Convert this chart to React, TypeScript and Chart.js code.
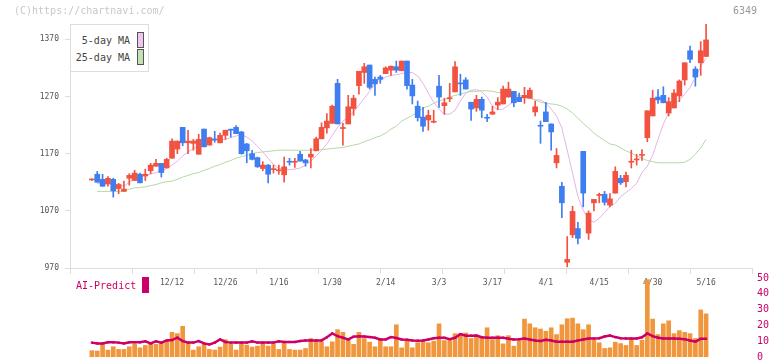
import React, { useEffect, useRef } from 'react';
import { Chart, registerables } from 'chart.js';

Chart.register(...registerables);

// ---- price data (one entry per trading day, oldest first) ----
const openP = [1124, 1134, 1125, 1117, 1125, 1109, 1104, 1127, 1123, 1134, 1131, 1140, 1148, 1153, 1145, 1162, 1178, 1216, 1189, 1188, 1169, 1213, 1185, 1195, 1189, 1202, 1212, 1216, 1208, 1187, 1170, 1163, 1144, 1150, 1142, 1140, 1133, 1156, 1155, 1169, 1159, 1164, 1175, 1196, 1215, 1223, 1293, 1214, 1222, 1249, 1289, 1312, 1325, 1300, 1304, 1310, 1316, 1322, 1315, 1332, 1290, 1253, 1234, 1229, 1225, 1288, 1254, 1266, 1278, 1293, 1299, 1260, 1250, 1265, 1233, 1239, 1255, 1257, 1269, 1279, 1269, 1268, 1267, 1243, 1219, 1243, 1222, 1154, 1113, 980, 1028, 1039, 1174, 1031, 1084, 1097, 1099, 1080, 1101, 1127, 1121, 1155, 1159, 1167, 1198, 1236, 1269, 1272, 1241, 1250, 1271, 1299, 1350, 1318, 1329, 1340];
const highP = [1126, 1139, 1134, 1130, 1127, 1118, 1122, 1135, 1141, 1136, 1143, 1153, 1160, 1153, 1162, 1196, 1192, 1216, 1211, 1195, 1204, 1213, 1199, 1209, 1206, 1211, 1213, 1219, 1209, 1188, 1176, 1164, 1156, 1151, 1150, 1150, 1164, 1162, 1162, 1174, 1160, 1179, 1199, 1224, 1240, 1255, 1300, 1223, 1272, 1272, 1314, 1328, 1325, 1304, 1307, 1322, 1323, 1332, 1332, 1332, 1300, 1262, 1251, 1246, 1246, 1307, 1267, 1293, 1331, 1309, 1303, 1260, 1272, 1269, 1239, 1253, 1268, 1288, 1295, 1279, 1276, 1286, 1285, 1262, 1227, 1260, 1222, 1179, 1120, 1025, 1078, 1050, 1174, 1070, 1090, 1101, 1104, 1100, 1147, 1132, 1138, 1176, 1169, 1177, 1245, 1281, 1282, 1287, 1268, 1282, 1299, 1329, 1358, 1322, 1366, 1397];
const lowP = [1123, 1120, 1113, 1113, 1094, 1100, 1104, 1115, 1123, 1119, 1123, 1135, 1148, 1129, 1145, 1162, 1170, 1184, 1170, 1176, 1169, 1182, 1185, 1190, 1189, 1195, 1199, 1205, 1169, 1154, 1159, 1146, 1140, 1119, 1136, 1134, 1120, 1150, 1146, 1157, 1148, 1145, 1175, 1196, 1206, 1223, 1222, 1185, 1222, 1237, 1274, 1293, 1283, 1272, 1293, 1310, 1307, 1312, 1315, 1283, 1257, 1227, 1209, 1211, 1224, 1251, 1239, 1261, 1278, 1272, 1283, 1228, 1244, 1233, 1226, 1239, 1247, 1257, 1269, 1252, 1261, 1258, 1267, 1236, 1188, 1226, 1176, 1145, 1058, 972, 1023, 1012, 1077, 1020, 1070, 1084, 1080, 1077, 1101, 1116, 1112, 1145, 1150, 1158, 1191, 1236, 1258, 1259, 1236, 1250, 1261, 1290, 1329, 1288, 1307, 1340];
const closeP = [1125, 1120, 1113, 1127, 1105, 1116, 1108, 1132, 1136, 1119, 1134, 1150, 1153, 1137, 1160, 1192, 1192, 1189, 1192, 1192, 1195, 1182, 1198, 1194, 1202, 1211, 1211, 1205, 1170, 1175, 1160, 1147, 1150, 1134, 1143, 1141, 1147, 1155, 1156, 1157, 1154, 1169, 1196, 1216, 1227, 1253, 1222, 1215, 1252, 1267, 1314, 1322, 1286, 1292, 1300, 1320, 1323, 1316, 1332, 1289, 1271, 1233, 1218, 1237, 1226, 1269, 1259, 1267, 1322, 1292, 1283, 1248, 1265, 1246, 1232, 1243, 1260, 1283, 1283, 1259, 1261, 1272, 1281, 1252, 1218, 1226, 1208, 1167, 1084, 985, 1069, 1022, 1101, 1066, 1090, 1098, 1085, 1091, 1139, 1119, 1132, 1156, 1160, 1168, 1245, 1267, 1264, 1259, 1261, 1276, 1297, 1329, 1335, 1304, 1350, 1369];
const ma5 = [null, 1118, 1118, 1118, 1116, 1115, 1113, 1120, 1127, 1130, 1132, 1134, 1137, 1140, 1144, 1150, 1157, 1166, 1173, 1179, 1183, 1188, 1192, 1194, 1194, 1195, 1198, 1201, 1203, 1199, 1192, 1183, 1173, 1162, 1151, 1144, 1144, 1142, 1143, 1145, 1150, 1157, 1166, 1176, 1187, 1202, 1216, 1227, 1234, 1243, 1255, 1267, 1279, 1292, 1299, 1304, 1307, 1308, 1310, 1312, 1312, 1306, 1293, 1276, 1260, 1248, 1239, 1239, 1246, 1262, 1276, 1281, 1282, 1278, 1269, 1253, 1247, 1248, 1255, 1261, 1265, 1268, 1267, 1264, 1264, 1258, 1248, 1236, 1215, 1176, 1136, 1095, 1071, 1055, 1050, 1057, 1067, 1078, 1083, 1095, 1102, 1109, 1118, 1137, 1148, 1167, 1195, 1222, 1241, 1255, 1264, 1274, 1286, 1304, 1322, 1337];
const ma25 = [null, 1104, 1104, 1104, 1104, 1104, 1105, 1108, 1110, 1111, 1112, 1114, 1116, 1119, 1121, 1122, 1125, 1129, 1132, 1135, 1137, 1141, 1144, 1148, 1151, 1155, 1158, 1162, 1165, 1167, 1170, 1172, 1173, 1174, 1175, 1176, 1176, 1176, 1176, 1176, 1176, 1176, 1177, 1177, 1178, 1179, 1180, 1181, 1183, 1185, 1187, 1191, 1194, 1198, 1201, 1206, 1213, 1218, 1227, 1232, 1237, 1243, 1250, 1253, 1258, 1262, 1265, 1269, 1272, 1274, 1277, 1279, 1279, 1280, 1280, 1279, 1277, 1276, 1275, 1273, 1272, 1270, 1267, 1264, 1260, 1258, 1257, 1256, 1253, 1248, 1241, 1232, 1223, 1215, 1206, 1199, 1193, 1187, 1185, 1180, 1175, 1171, 1166, 1162, 1158, 1156, 1154, 1154, 1154, 1154, 1154, 1155, 1160, 1169, 1180, 1195];
const volume = [4, 3.8, 8, 4.4, 6.5, 4.8, 4.8, 6.5, 8, 5.8, 7.3, 9.4, 8, 9, 10.4, 15.6, 14.8, 19.4, 9.4, 4.4, 6.5, 8, 4.8, 4.4, 6.3, 11, 8, 4.4, 9, 7.5, 6.3, 6.9, 9, 6.9, 8.3, 4.8, 9, 4.8, 4.4, 4.4, 5.4, 11.7, 10.6, 9.6, 6.5, 9.6, 17.3, 15.6, 11.7, 8, 15.6, 11.7, 9.4, 6.5, 11.7, 6.5, 6.5, 20.4, 5.8, 10, 5.8, 9, 10, 9, 10, 21, 10.4, 10.4, 14.8, 14.8, 15.2, 11.7, 13, 13, 18.5, 11, 13.5, 8.3, 13.5, 6.9, 10.4, 24, 21, 18.5, 17.7, 16.3, 18.5, 14.2, 20.4, 24.2, 24.6, 21, 17.3, 20.4, 10.6, 9, 5.4, 5.8, 9.4, 8.5, 7.3, 11, 7.3, 10.6, 49, 24, 14.2, 21, 22.9, 14.8, 16.7, 15.6, 14.8, 11.7, 29.8, 27.3];
const aiPredict = [9.1, 8.6, 8.6, 9.3, 9.3, 9.1, 8.6, 9.3, 9.3, 9.3, 9.9, 8.6, 9.9, 9.1, 10.5, 10.7, 12.2, 10.1, 9.1, 9.1, 10.1, 8.6, 8.0, 9.1, 11.1, 9.5, 9.1, 9.1, 9.1, 9.1, 9.9, 9.1, 9.1, 9.1, 9.1, 9.9, 9.5, 9.5, 9.5, 10.1, 10.5, 10.5, 10.5, 10.5, 12.5, 14.9, 13.2, 12.2, 11.1, 12.9, 13.2, 13.0, 12.6, 12.2, 11.1, 11.1, 12.6, 12.0, 11.1, 10.9, 10.5, 10.3, 10.5, 11.1, 11.9, 12.2, 12.2, 11.3, 12.2, 14.5, 13.5, 13.5, 13.6, 12.5, 12.2, 12.2, 12.2, 12.2, 11.6, 11.1, 11.3, 11.7, 11.1, 10.5, 10.1, 10.9, 10.5, 9.7, 9.7, 9.7, 9.7, 10.5, 11.1, 11.7, 11.7, 11.9, 13.0, 13.6, 12.6, 11.9, 11.7, 11.7, 11.7, 12.5, 14.9, 13.2, 12.2, 11.7, 11.7, 11.7, 11.5, 11.3, 10.5, 9.7, 11.5, 11.5];

// ---- tick labels ----
const dateLabels = ['12/12', '12/26', '1/16', '1/30', '2/14', '3/3', '3/17', '4/1', '4/15', '4/30', '5/16'];
const dateLabelIndex = [15, 25, 35, 45, 55, 65, 75, 85, 95, 105, 115];
const priceTicks = [970, 1070, 1170, 1270, 1370];
const volumeTicks = [0, 10, 20, 30, 40, 50];

const UP = '#f25240';
const DOWN = '#3f7ef0';
const CRIMSON = '#cc0066';
const MONO = "'DejaVu Sans Mono', 'Liberation Mono', monospace";

const X_MIN = -4.1;
const X_MAX = 123.6;

export default function App() {
  const mainRef = useRef<HTMLCanvasElement>(null);
  const volRef = useRef<HTMLCanvasElement>(null);

  useEffect(() => {
    const idx = openP.map((_, i) => i);
    const colors = idx.map((i) => (closeP[i] >= openP[i] ? UP : DOWN));
    const labelMap = new Map<number, string>(dateLabelIndex.map((v, k) => [v, dateLabels[k]]));
    const markTicks = Array.from({ length: 12 }, (_, k) => X_MIN + (k * (X_MAX - X_MIN)) / 11);
    const noPad = (s: any) => {
      s.paddingTop = 0;
      s.paddingBottom = 0;
      s.paddingLeft = 0;
      s.paddingRight = 0;
    };

    const main = new Chart(mainRef.current as HTMLCanvasElement, {
      type: 'bar',
      data: {
        datasets: [
          {
            type: 'line',
            label: '5-day MA',
            data: idx.map((i) => ({ x: i, y: ma5[i] })),
            borderColor: '#e8b2e8',
            borderWidth: 1,
            pointRadius: 0,
            order: 4,
          } as any,
          {
            type: 'line',
            label: '25-day MA',
            data: idx.map((i) => ({ x: i, y: ma25[i] })),
            borderColor: '#b3d9a3',
            borderWidth: 1,
            pointRadius: 0,
            order: 3,
          } as any,
          {
            type: 'bar',
            label: 'wick',
            data: idx.map((i) => ({ x: i, y: [lowP[i], highP[i]] })),
            backgroundColor: colors,
            barThickness: 1,
            grouped: false,
            order: 2,
          } as any,
          {
            type: 'bar',
            label: 'body',
            data: idx.map((i) => ({ x: i, y: [openP[i], closeP[i]] })),
            backgroundColor: colors,
            barThickness: 5,
            minBarLength: 1,
            grouped: false,
            order: 1,
          } as any,
        ],
      },
      options: {
        responsive: false,
        animation: false,
        events: [],
        layout: { padding: { left: 0, right: 20, top: 24, bottom: 0 } },
        plugins: { legend: { display: false }, tooltip: { enabled: false } },
        scales: {
          x: {
            type: 'linear',
            min: X_MIN,
            max: X_MAX,
            offset: false,
            afterBuildTicks: (s: any) => {
              s.ticks = [...markTicks, ...dateLabelIndex].sort((a, b) => a - b).map((v) => ({ value: v }));
            },
            afterFit: (s: any) => {
              s.height = 32;
              noPad(s);
            },
            ticks: {
              autoSkip: false,
              maxRotation: 0,
              minRotation: 0,
              padding: 4,
              color: '#555',
              font: { family: MONO, size: 8 },
              callback: (v: any) => labelMap.get(Number(v)) ?? '',
            },
            grid: {
              drawOnChartArea: false,
              offset: false,
              tickLength: 6,
              color: (c: any) => (c.tick && labelMap.has(c.tick.value) ? 'rgba(0,0,0,0)' : '#dddddd'),
            },
            border: { color: '#dddddd' },
          },
          y: {
            min: 970,
            max: 1396.8,
            afterBuildTicks: (s: any) => {
              s.ticks = priceTicks.map((v) => ({ value: v }));
            },
            afterFit: (s: any) => {
              s.width = 70;
              noPad(s);
            },
            ticks: {
              padding: 6,
              color: '#555',
              font: { family: MONO, size: 8 },
              callback: (v: any) => String(v),
            },
            grid: { drawOnChartArea: false, tickLength: 5, color: '#dddddd' },
            border: { color: '#dddddd' },
          },
        },
      } as any,
    });

    const vol = new Chart(volRef.current as HTMLCanvasElement, {
      type: 'bar',
      data: {
        datasets: [
          {
            type: 'line',
            label: 'AI-Predict',
            data: idx.map((i) => ({ x: i, y: aiPredict[i] })),
            borderColor: CRIMSON,
            borderWidth: 2.5,
            pointRadius: 1.6,
            pointStyle: 'rect',
            pointBackgroundColor: CRIMSON,
            pointBorderWidth: 0,
            order: 1,
          } as any,
          {
            type: 'bar',
            label: 'Volume',
            data: idx.map((i) => ({ x: i, y: volume[i] })),
            backgroundColor: '#f0963c',
            barThickness: 4,
            order: 2,
          } as any,
        ],
      },
      options: {
        responsive: false,
        animation: false,
        events: [],
        layout: { padding: { left: 70, right: 0, top: 8, bottom: 3 } },
        plugins: { legend: { display: false }, tooltip: { enabled: false } },
        scales: {
          x: {
            type: 'linear',
            display: false,
            min: X_MIN,
            max: X_MAX,
            offset: false,
            afterFit: (s: any) => {
              noPad(s);
            },
          },
          y: {
            position: 'right',
            min: 0,
            max: 50,
            afterBuildTicks: (s: any) => {
              s.ticks = volumeTicks.map((v) => ({ value: v }));
            },
            afterFit: (s: any) => {
              s.width = 20;
              noPad(s);
            },
            ticks: { padding: 5, color: CRIMSON, font: { family: MONO, size: 10 }, callback: (v: any) => String(v) },
            grid: { display: false, drawTicks: false },
            border: { display: false },
          },
        },
      } as any,
    });

    return () => {
      main.destroy();
      vol.destroy();
    };
  }, []);

  const swatch = (bg: string) => ({
    position: 'absolute' as const,
    width: 5,
    height: 14,
    background: bg,
    border: '1px solid #555',
  });

  return (
    <div style={{ position: 'fixed', left: 0, top: 0, width: 772, height: 361, background: '#fff', overflow: 'hidden', fontFamily: MONO }}>
      <canvas ref={mainRef} width={772} height={300} style={{ position: 'absolute', left: 0, top: 0 }} />
      <canvas ref={volRef} width={772} height={91} style={{ position: 'absolute', left: 0, top: 270 }} />
      <div style={{ position: 'absolute', left: 14, top: 5, fontSize: 10, lineHeight: '12px', color: '#c8c8c8', whiteSpace: 'nowrap' }}>(C)https://chartnavi.com/</div>
      <div style={{ position: 'absolute', left: 733, top: 5, fontSize: 10, lineHeight: '12px', color: '#999', whiteSpace: 'nowrap' }}>6349</div>
      <div style={{ position: 'absolute', left: 70, top: 24, width: 77, height: 46, border: '1px solid #dddddd', background: '#fff' }}>
        <div style={{ position: 'absolute', right: 18, top: 10, fontSize: 10, lineHeight: '12px', color: '#444', whiteSpace: 'nowrap' }}>5-day MA</div>
        <div style={{ ...swatch('#f0c4f0'), left: 66, top: 7 }} />
        <div style={{ position: 'absolute', right: 18, top: 27, fontSize: 10, lineHeight: '12px', color: '#444', whiteSpace: 'nowrap' }}>25-day MA</div>
        <div style={{ ...swatch('#c2e2b4'), left: 66, top: 24 }} />
      </div>
      <div style={{ position: 'absolute', left: 76, top: 280, fontSize: 10, lineHeight: '12px', color: CRIMSON, whiteSpace: 'nowrap' }}>AI-Predict</div>
      <div style={{ position: 'absolute', left: 142, top: 277, width: 7, height: 16, background: CRIMSON }} />
    </div>
  );
}
